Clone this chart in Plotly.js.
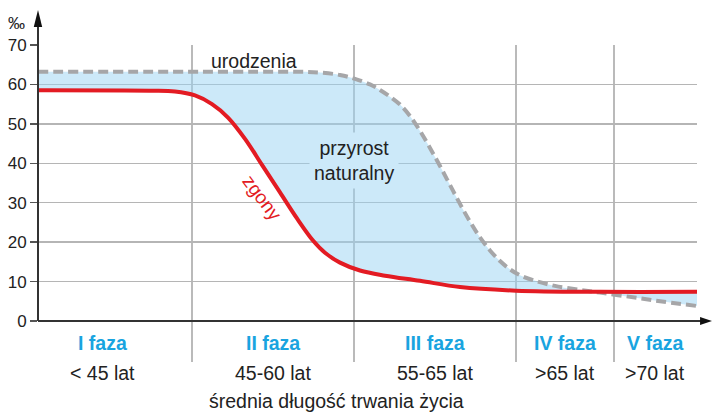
<!DOCTYPE html>
<html>
<head>
<meta charset="utf-8">
<script src="https://cdn.plot.ly/plotly-3.0.1.min.js"></script>
<style>html,body{margin:0;padding:0;background:#fff;}#chart{width:712px;height:415px;}</style>
</head>
<body>
<div id="chart"></div>
<script>
// Position along the "average life expectancy" axis (arbitrary units, 0 = start)
const birthX = [0, 162, 262, 282, 302, 317, 332, 342, 352, 362, 372, 382, 392, 402, 412, 422, 432, 442, 452, 462, 472, 482, 497, 517, 542, 562, 587, 617, 659];
const birthV = [63.2, 63.2, 63.2, 63.0, 62.4, 61.4, 60.0, 58.6, 56.9, 54.9, 52.0, 48.2, 43.9, 39.3, 34.5, 29.7, 25.2, 21.2, 17.9, 15.2, 13.1, 11.6, 10.2, 8.9, 7.9, 7.2, 6.3, 5.2, 3.8];
const deathX = [0, 112, 137, 157, 174, 190, 207, 224, 242, 259, 275, 287, 302, 322, 347, 382, 422, 478, 562, 659];
const deathV = [58.5, 58.4, 58.2, 57.2, 55.0, 51.6, 46.2, 39.6, 32.6, 26.0, 20.4, 17.3, 14.8, 12.8, 11.5, 10.2, 8.6, 7.7, 7.4, 7.4];
const phaseBounds = [154, 316, 478, 576];
const phaseCenters = [64, 235, 397, 527, 617];
const phaseNames = ["I faza", "II faza", "III faza", "IV faza", "V faza"];
const phaseLife = ["< 45 lat", "45-60 lat", "55-65 lat", ">65 lat", ">70 lat"];
const yTicks = [0, 10, 20, 30, 40, 50, 60, 70];

const TXT = '"Liberation Sans", Arial, sans-serif';
const TICKF = '"Liberation Sans", Arial, sans-serif';
const RED = '#e31b23', GRAY = '#a6a6a8', BLUE = '#19a4e0', DARK = '#222222';
const FS = 19.5;

const traces = [
  {x: deathX, y: deathV, mode: 'lines', line: {width: 0, shape: 'spline', smoothing: 1}, hoverinfo: 'skip', showlegend: false},
  {x: birthX, y: birthV, mode: 'lines', fill: 'tonexty', fillcolor: 'rgba(153,211,243,0.5)',
   line: {color: GRAY, width: 4, dash: '10px,5px', shape: 'spline', smoothing: 1}, showlegend: false},
  {x: deathX, y: deathV, mode: 'lines', line: {color: RED, width: 4, shape: 'spline', smoothing: 1}, showlegend: false}
];

const shapes = [];
phaseBounds.forEach(b => shapes.push({type: 'line', xref: 'x', yref: 'paper', x0: b, x1: b, y0: -0.1486, y1: 1,
  line: {color: '#a3a3a3', width: 1.5}, layer: 'below'}));
// axes with arrows
shapes.push({type: 'line', xref: 'paper', yref: 'paper', x0: 0, x1: 0, y0: 0, y1: 1.07, line: {color: '#333', width: 2}, layer: 'above'});
shapes.push({type: 'line', xref: 'paper', yref: 'paper', x0: 0, x1: 1.006, y0: 0, y1: 0, line: {color: '#333', width: 2}, layer: 'above'});
shapes.push({type: 'path', xref: 'paper', yref: 'paper', path: 'M -0.0064 1.0652 L 0.0064 1.0652 L 0 1.1268 Z', fillcolor: '#111', line: {width: 0}, layer: 'above'});
shapes.push({type: 'path', xref: 'paper', yref: 'paper', path: 'M 1.0046 -0.0145 L 1.0046 0.0145 L 1.0228 0 Z', fillcolor: '#111', line: {width: 0}, layer: 'above'});

const annotations = [];
phaseNames.forEach((n, i) => {
  annotations.push({x: phaseCenters[i], xref: 'x', yref: 'paper', y: -0.078, text: '<b>' + n + '</b>', showarrow: false,
    font: {family: TXT, size: FS, color: BLUE}, xanchor: 'center', yanchor: 'middle'});
  annotations.push({x: phaseCenters[i], xref: 'x', yref: 'paper', y: -0.19, text: phaseLife[i], showarrow: false,
    font: {family: TXT, size: FS, color: DARK}, xanchor: 'center', yanchor: 'middle'});
});
annotations.push({x: 298, xref: 'x', yref: 'paper', y: -0.29, text: 'średnia długość trwania życia', showarrow: false,
  font: {family: TXT, size: FS, color: DARK}, xanchor: 'center', yanchor: 'middle'});
annotations.push({x: 216, xref: 'x', y: 66.0, yref: 'y', text: 'urodzenia', showarrow: false,
  font: {family: TXT, size: FS, color: DARK}, xanchor: 'center', yanchor: 'middle'});
annotations.push({x: 316, xref: 'x', y: 40.6, yref: 'y', text: 'przyrost<br>naturalny', showarrow: false,
  font: {family: TXT, size: FS, color: DARK}, bgcolor: '#cce9f9', borderpad: 4, xanchor: 'center', yanchor: 'middle'});
annotations.push({x: 224, xref: 'x', y: 31.4, yref: 'y', text: 'zgony', showarrow: false, textangle: 53,
  font: {family: TXT, size: 19, color: RED}, xanchor: 'center', yanchor: 'middle'});
annotations.push({x: -0.0319, xref: 'paper', y: 1.078, yref: 'paper', text: '‰', showarrow: false,
  font: {family: TICKF, size: 17, color: DARK}, xanchor: 'center', yanchor: 'middle'});

const layout = {
  width: 712, height: 415,
  margin: {l: 38, r: 15, t: 45, b: 94},
  paper_bgcolor: '#fff', plot_bgcolor: '#fff',
  showlegend: false,
  xaxis: {range: [0, 659], showgrid: false, zeroline: false, showline: false, showticklabels: false, ticks: '', fixedrange: true},
  yaxis: {range: [0, 70], tickvals: yTicks, ticktext: yTicks.map(String), showgrid: true, gridcolor: '#b5b5b5', gridwidth: 1.5,
    zeroline: false, showline: false, ticks: 'outside', ticklen: 7, tickwidth: 1.5, tickcolor: '#555',
    tickfont: {family: TICKF, size: 17, color: DARK}, fixedrange: true},
  shapes: shapes,
  annotations: annotations
};

Plotly.newPlot('chart', traces, layout, {displayModeBar: false, staticPlot: true});
</script>
</body>
</html>
